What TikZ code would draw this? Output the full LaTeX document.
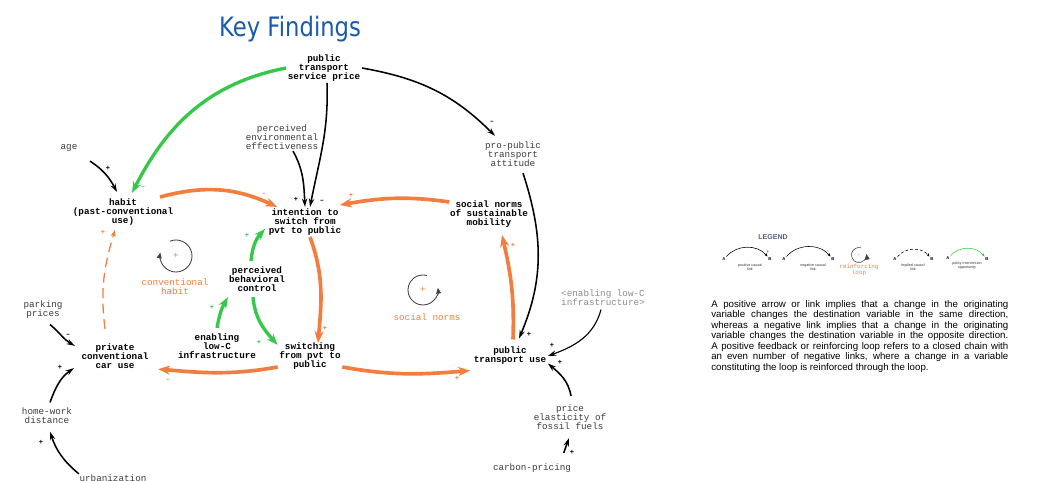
\documentclass[tikz,border=0pt]{standalone}
\usepackage{fontspec}
\setmonofont{Liberation Mono}
\setsansfont{Liberation Sans}
\newfontfamily\titlefont[FakeStretch=0.85]{DejaVu Sans}
\usetikzlibrary{arrows.meta,calc}
\definecolor{loopor}{RGB}{242,125,62}
\definecolor{polgreen}{RGB}{55,200,75}
\definecolor{titleblue}{RGB}{25,90,170}
\definecolor{auxgrey}{RGB}{60,60,60}
\definecolor{legslate}{RGB}{80,95,130}
\tikzset{
  var/.style={font=\ttfamily\bfseries\fontsize{6.6}{6.4}\selectfont, align=center, inner sep=1pt},
  aux/.style={font=\ttfamily\fontsize{6.6}{6.4}\selectfont, align=center, inner sep=1pt, text=auxgrey},
  shadowvar/.style={aux, text=black!45},
  looplbl/.style={font=\ttfamily\fontsize{6.6}{6.4}\selectfont, align=center, inner sep=1pt, text=loopor},
  polarity/.style={font=\ttfamily\bfseries\fontsize{5}{5}\selectfont, inner sep=0pt},
  link/.style={line width=1.1pt, -{Stealth[length=6pt,width=3.8pt]}},
  orlink/.style={draw=loopor, line width=2.6pt, -{Stealth[length=8.5pt,width=6.5pt]}},
  grlink/.style={draw=polgreen, line width=2.4pt, -{Stealth[length=8pt,width=6pt]}},
  implied/.style={draw=loopor, line width=0.9pt, dash pattern=on 7pt off 4pt, -{Stealth[length=5pt,width=3.5pt]}},
  loopline/.style={draw=black!75, line width=0.6pt, -{Triangle[length=4pt,width=3.5pt]}},
  legab/.style={font=\sffamily\bfseries\fontsize{3}{3}\selectfont, inner sep=0.5pt},
  legtext/.style={font=\sffamily\fontsize{2.6}{2.8}\selectfont, align=center, inner sep=0pt, text=black!80},
}
\begin{document}
\begin{tikzpicture}[x=0.025cm,y=0.025cm]
\useasboundingbox (0,0) rectangle (1064,480);
% title
\node[font=\titlefont\fontsize{19}{19}\selectfont, text=titleblue, anchor=base] (title) at (290,443) {Key Findings};
% variables
\node[var] (ptsp) at (324,412) {public\\transport\\service price};
\node[aux] (pee) at (282,343) {perceived\\environmental\\effectiveness};
\node[aux] (age) at (69,332) {age};
\node[var] (habit) at (123,268) {habit\\(past-conventional\\use)};
\node[var] (intent) at (305,258) {intention to\\switch from\\pvt to public};
\node[aux] (ppta) at (513,326) {pro-public\\transport\\attitude};
\node[var] (snsm) at (489,266) {social norms\\of sustainable\\mobility};
\node[var] (pbc) at (257,201) {perceived\\behavioral\\control};
\node[aux] (park) at (43,170) {parking\\prices};
\node[var] (pccu) at (115,124) {private\\conventional\\car use};
\node[var] (elc) at (217,134) {enabling\\low-C\\infrastructure};
\node[var] (switch) at (310,124) {switching\\from pvt to\\public};
\node[aux] (hwd) at (47,64) {home-work\\distance};
\node[aux] (urb) at (113,2) {urbanization};
\node[var] (ptu) at (510,124) {public\\transport use};
\node[shadowvar] (elcs) at (603,182) {<enabling low-C\\infrastructure>};
\node[aux] (pefs) at (570,63) {price\\elasticity of\\fossil fuels};
\node[aux] (carbon) at (532,12) {carbon-pricing};
% loops
\coordinate (loopA) at (176,224);
\draw[loopline] ($(loopA)+(112:16)$) arc[start angle=112, end angle=-192, radius=16];
\node[looplbl] (loopAsign) at (loopA) {+};
\node[looplbl] (loopAlbl) at (175,193) {conventional\\habit};
\coordinate (loopB) at (423,190);
\draw[loopline] ($(loopB)+(75:15)$) arc[start angle=75, end angle=368, radius=15];
\node[looplbl] (loopBsign) at (loopB) {+};
\node[looplbl] (loopBlbl) at (427,163) {social norms};
% black links
\draw[link] ($(ptsp.south)+(3,0)$) to[out=-88,in=79] ($(intent.north)+(5,0)$);
\draw[link] ($(pee.south)+(11,0)$) to[out=-61,in=93] (intent.north);
\draw[link] ($(age.south east)+(11,-8)$) to[out=-33,in=118] ($(habit.north)+(-6,5)$);
\draw[link] (ptsp.east) to[out=-10,in=135] ($(ppta.north)+(-18,4)$);
\draw[link] ($(ppta.south)+(10,-5)$) to[out=-72,in=67] ($(ptu.north)+(9,7)$);
\draw[link] ($(park.south)+(7,-4)$) to[out=-40,in=150] ($(pccu.north west)+(-5,-4)$);
\draw[link] ($(hwd.north)+(3,4)$) to[out=70,in=-145] ($(pccu.south west)+(-6,2)$);
\draw[link] ($(urb.north west)+(1,-1)$) to[out=140,in=-72] ($(hwd.south)+(3,-6)$);
\draw[link, line width=0.8pt] ($(elcs.south)+(-2,-2)$) to[out=-105,in=20] (ptu.east);
\draw[link] ($(pefs.north)+(1,7)$) to[out=100,in=-40] ($(ptu.south east)+(0,3)$);
\draw[link] ($(carbon.north east)+(-9,9)$) -- ($(pefs.south)+(-1,-7)$);
% reinforcing links
\draw[orlink] ($(habit.north)+(37,0)$) to[out=15,in=155] ($(intent.north west)+(10,0)$);
\draw[orlink] ($(snsm.north west)+(1,-3)$) to[out=172,in=10] ($(intent.north east)+(-3,2)$);
\draw[orlink] ($(intent.south)+(5,0)$) to[out=-70,in=85] ($(switch.north)+(8,-2)$);
\draw[orlink] ($(switch.south west)+(0,4)$) to[out=190,in=-5] ($(pccu.south east)+(8,1)$);
\draw[orlink] ($(switch.south east)+(0,4)$) to[out=-10,in=185] ($(ptu.south west)+(-2,-4)$);
\draw[orlink] ($(ptu.north)+(3,6)$) to[out=88,in=-77] ($(snsm.south)+(13,-6)$);
\draw[implied] ($(pccu.north)+(-10,13)$) to[out=97,in=-107] ($(habit.south)+(-8,-3)$);
% policy links
\draw[grlink] (ptsp.west) to[out=191,in=63] ($(habit.north)+(9,4)$);
\draw[grlink] ($(pbc.north)+(-6,4)$) to[out=85,in=227] ($(intent.south west)+(-2,8)$);
\draw[grlink] ($(elc.north)+(0,4)$) to[out=80,in=-120] ($(pbc.south)+(-29,-4)$);
\draw[grlink] ($(pbc.south)+(-4,-4)$) to[out=-85,in=132] ($(switch.north west)+(0,-4)$);
% polarities
\node[polarity, text=polgreen] (pol1) at (143,293) {–};
\node[polarity] (pol2) at (322,279) {–};
\node[polarity] (pol3) at (296,281) {+};
\node[polarity] (pol4) at (108,312) {+};
\node[polarity] (pol5) at (492,358) {–};
\node[polarity] (pol6) at (529,146) {+};
\node[polarity, text=loopor] (pol7) at (264,286) {–};
\node[polarity, text=loopor] (pol8) at (351,285) {+};
\node[polarity, text=loopor] (pol9) at (325,152) {+};
\node[polarity, text=polgreen] (pol10) at (247,245) {+};
\node[polarity, text=polgreen] (pol11) at (212,173) {+};
\node[polarity, text=polgreen] (pol12) at (259,138) {+};
\node[polarity, text=loopor] (pol13) at (168,100) {–};
\node[polarity, text=loopor] (pol14) at (103,248) {+};
\node[polarity, text=loopor] (pol15) at (457,102) {+};
\node[polarity, text=loopor] (pol16) at (513,235) {+};
\node[polarity] (pol17) at (68,145) {–};
\node[polarity] (pol18) at (60,113) {+};
\node[polarity] (pol19) at (41,38) {+};
\node[polarity] (pol20) at (552,135) {+};
\node[polarity] (pol21) at (560,118) {+};
\node[polarity] (pol22) at (572,28) {+};
% legend
\node[font=\sffamily\bfseries\fontsize{5}{5}\selectfont, text=legslate] (legend) at (773,243) {LEGEND};
\node[legab] (la1) at (724,221) {A};
\node[legab] (lb1) at (770,221) {B};
\draw[line width=0.4pt, -{Stealth[length=2.5pt,width=2pt]}] (la1.north east) to[bend left=50] (lb1.north west);
\node[polarity, font=\ttfamily\fontsize{3}{3}\selectfont] (lp1) at (768,228) {+};
\node[legtext] (ll1) at (750,213) {positive causal\\link};
\node[legab] (la2) at (784,221) {A};
\node[legab] (lb2) at (833,221) {B};
\draw[line width=0.4pt, -{Stealth[length=2.5pt,width=2pt]}] (la2.north east) to[bend left=50] (lb2.north west);
\node[polarity, font=\ttfamily\fontsize{3}{3}\selectfont] (lp2) at (828,228) {–};
\node[legtext] (ll2) at (813,213) {negative causal\\link};
\coordinate (legloop) at (859,225);
\draw[loopline, line width=0.4pt] ($(legloop)+(75:7.5)$) arc[start angle=75, end angle=368, radius=7.5];
\node[polarity, font=\ttfamily\fontsize{3}{3}\selectfont, text=loopor] (lp3) at (legloop) {+};
\node[looplbl, font=\ttfamily\fontsize{4.2}{3.4}\selectfont, inner sep=0pt] (ll3) at (859,210) {reinforcing\\loop};
\node[legab] (la4) at (895,221) {A};
\node[legab] (lb4) at (932,221) {B};
\draw[line width=0.4pt, dash pattern=on 2pt off 1.5pt, -{Stealth[length=2.5pt,width=2pt]}] (la4.north east) to[bend left=50] (lb4.north west);
\node[legtext] (ll4) at (913,213) {implied causal\\link};
\node[legab] (la5) at (948,222) {A};
\node[legab] (lb5) at (987,221) {B};
\draw[draw=polgreen, line width=0.4pt, -{Stealth[length=2.5pt,width=2pt]}] (la5.north east) to[bend left=50] (lb5.north west);
\node[legtext] (ll5) at (967,214) {policy intervention\\opportunity};
% note
\node[anchor=north west, text width=7.425cm, align=justify, inner sep=0pt, font=\sffamily\fontsize{6.9}{5.9}\selectfont] (note) at (711,180)
  {A positive arrow or link implies that a change in the originating\linebreak
   variable changes the destination variable in the same direction,\linebreak
   whereas a negative link implies that a change in the originating\linebreak
   variable changes the destination variable in the opposite direction.\linebreak
   A positive feedback or reinforcing loop refers to a closed chain with\linebreak
   an even number of negative links, where a change in a variable\linebreak
   constituting the loop is reinforced through the loop.};
\end{tikzpicture}
\end{document}
